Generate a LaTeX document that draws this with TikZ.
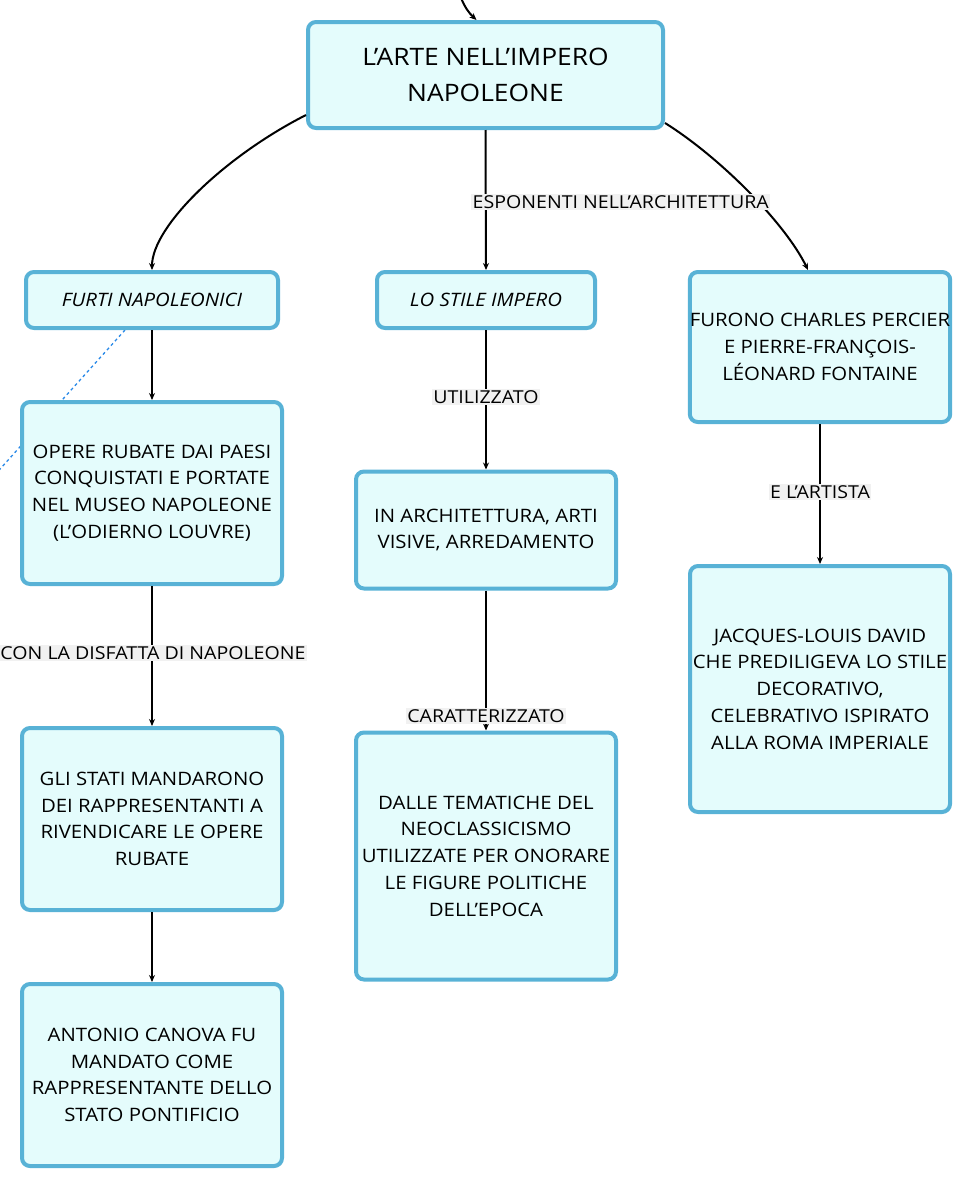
\documentclass[tikz,border=0pt]{standalone}
\usepackage{fontspec}
\setmainfont{Open Sans}[FakeStretch=1.1]
\usetikzlibrary{arrows.meta,backgrounds}
\definecolor{boxfill}{HTML}{E4FCFC}
\definecolor{boxline}{HTML}{58B2D6}
\definecolor{lblfill}{HTML}{F1F1F1}
\definecolor{dashblue}{HTML}{2A8AE8}
\begin{document}
\begin{tikzpicture}[x=1pt, y=1pt, font=\fontsize{18.5}{26.7}\selectfont,
	box/.style={draw=boxline, fill=boxfill, line width=4pt, rounded corners=8pt, align=center, inner sep=0pt},
	lbl/.style={fill=lblfill, inner sep=1.5pt, font=\fontsize{17.8}{22}\selectfont},
	link/.style={line width=2pt, -{Stealth[length=7pt,width=6pt]}}]
	
	\useasboundingbox (0,0) rectangle (972,-1189);
	
	% Concetto principale
	\node[box, minimum width=355pt, minimum height=106pt, font=\fontsize{24}{36}\selectfont] (arte) at (485.5,-75) {L'ARTE NELL'IMPERO\\NAPOLEONE};
	
	% Primo livello
	\node[box, minimum width=252pt, minimum height=56pt, font=\fontsize{18.5}{26.7}\selectfont\itshape] (furti) at (152,-300) {FURTI NAPOLEONICI};
	\node[box, minimum width=218pt, minimum height=56pt, font=\fontsize{18.5}{26.7}\selectfont\itshape] (stile) at (486,-300) {LO STILE IMPERO};
	\node[box, minimum width=260pt, minimum height=150pt] (furono) at (820,-347) {FURONO CHARLES PERCIER\\E PIERRE-FRANÇOIS-\\LÉONARD FONTAINE};
	
	% Secondo livello
	\node[box, minimum width=260pt, minimum height=182pt] (opere) at (152,-493) {OPERE RUBATE DAI PAESI\\CONQUISTATI E PORTATE\\NEL MUSEO NAPOLEONE\\(L'ODIERNO LOUVRE)};
	\node[box, minimum width=260pt, minimum height=117pt] (arch) at (486,-530) {IN ARCHITETTURA, ARTI\\VISIVE, ARREDAMENTO};
	\node[box, minimum width=260pt, minimum height=246pt] (david) at (820,-689) {JACQUES-LOUIS DAVID\\CHE PREDILIGEVA LO STILE\\DECORATIVO,\\CELEBRATIVO ISPIRATO\\ALLA ROMA IMPERIALE};
	
	% Terzo livello
	\node[box, minimum width=260pt, minimum height=182pt] (stati) at (152,-819) {GLI STATI MANDARONO\\DEI RAPPRESENTANTI A\\RIVENDICARE LE OPERE\\RUBATE};
	\node[box, minimum width=260pt, minimum height=247pt] (dalle) at (486,-856) {DALLE TEMATICHE DEL\\NEOCLASSICISMO\\UTILIZZATE PER ONORARE\\LE FIGURE POLITICHE\\DELL'EPOCA};
	\node[box, minimum width=260pt, minimum height=182pt] (canova) at (152,-1075) {ANTONIO CANOVA FU\\MANDATO COME\\RAPPRESENTANTE DELLO\\STATO PONTIFICIO};
	
	% Collegamenti
	\coordinate (entra) at (461,2);
	\coordinate (fuori) at (-8,-478);
	\draw[link] (entra) to[bend right=12] ([xshift=-9pt]arte.north);
	\draw[link] ([yshift=15pt]arte.south west) to[out=207, in=90, out distance=93pt, in distance=43pt] (furti.north);
	\draw[link] ([yshift=7pt]arte.south east) to[out=-32, in=116, out distance=65pt, in distance=52pt] ([xshift=-12pt]furono.north);
	\draw[link] (arte.south) -- (stile.north);
	\draw[link] (furti.south) -- (opere.north);
	\draw[link] (stile.south) -- (arch.north);
	\draw[link] (arch.south) -- (dalle.north);
	\draw[link] (furono.south) -- (david.north);
	\draw[link] (opere.south) -- (stati.north);
	\draw[link] (stati.south) -- (canova.north);
	\begin{scope}[on background layer]
		\draw[dashed, dashblue, line width=1.3pt] ([xshift=-27pt]furti.south) -- (fuori);
	\end{scope}
	
	% Etichette
	\node[lbl, anchor=west] (esponenti) at (471,-202) {ESPONENTI NELL'ARCHITETTURA};
	\node[lbl] (utilizzato) at (486,-397) {UTILIZZATO};
	\node[lbl] (artista) at (820,-492) {E L'ARTISTA};
	\node[lbl] (disfatta) at (153,-653) {CON LA DISFATTA DI NAPOLEONE};
	\node[lbl] (caratt) at (486,-716) {CARATTERIZZATO};
	
\end{tikzpicture}
\end{document}
